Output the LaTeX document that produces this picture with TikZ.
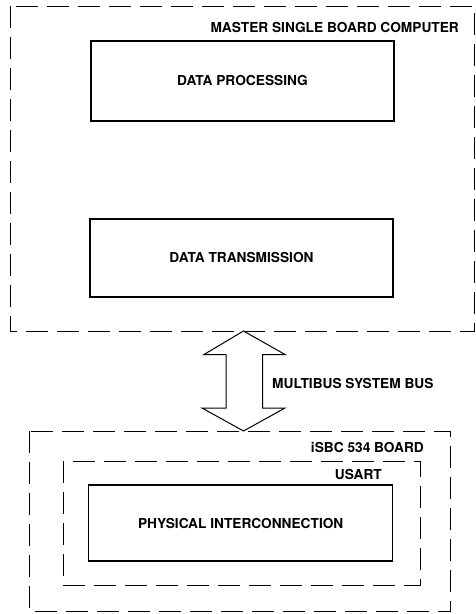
\documentclass[tikz,border=0pt]{standalone}
\usepackage{fontspec}
\setmainfont{TeX Gyre Heros}
\begin{document}
\begin{tikzpicture}[x=1pt,y=-1pt,
  lbl/.style={font=\bfseries\fontsize{13.7}{15}\selectfont, inner sep=0pt},
  dbox/.style={draw, line width=0.9pt, dash pattern=on 22pt off 9pt},
  sbox/.style={draw, line width=1.2pt, inner sep=0pt, font=\bfseries\fontsize{13.7}{15}\selectfont},
  busarrow/.style={draw, line width=1pt, fill=white}]
\useasboundingbox (0,0) rectangle (475,614);
% master board
\draw[dbox] (10,6) rectangle (474,331);
\node[lbl, anchor=east] (master) at (459,28) {MASTER SINGLE BOARD COMPUTER};
\node[sbox, minimum width=303pt, minimum height=80pt] (dp) at (242.5,81) {DATA PROCESSING};
\node[sbox, minimum width=303pt, minimum height=78pt] (dt) at (241.5,258) {DATA TRANSMISSION};
% iSBC board
\draw[dbox] (29,431) rectangle (450,611);
\node[lbl, anchor=east] (isbc) at (424,447) {iSBC 534 BOARD};
\draw[dbox] (63,461) rectangle (420,585);
\node[lbl, anchor=east] (usart) at (382,474) {USART};
\node[sbox, minimum width=304pt, minimum height=76pt] (pi) at (240.7,523) {PHYSICAL INTERCONNECTION};
% bus arrow
\coordinate (top) at (243.5,331);
\coordinate (bot) at (243.5,431);
\draw[busarrow] (top) -- (285,354.5) -- (262.5,354.5) -- (262.5,408) -- (285,408)
  -- (bot) -- (202,408) -- (226,408) -- (226,354.5) -- (204,354.5) -- cycle;
\node[lbl, anchor=west] (bus) at (272,383) {MULTIBUS SYSTEM BUS};
\end{tikzpicture}
\end{document}
